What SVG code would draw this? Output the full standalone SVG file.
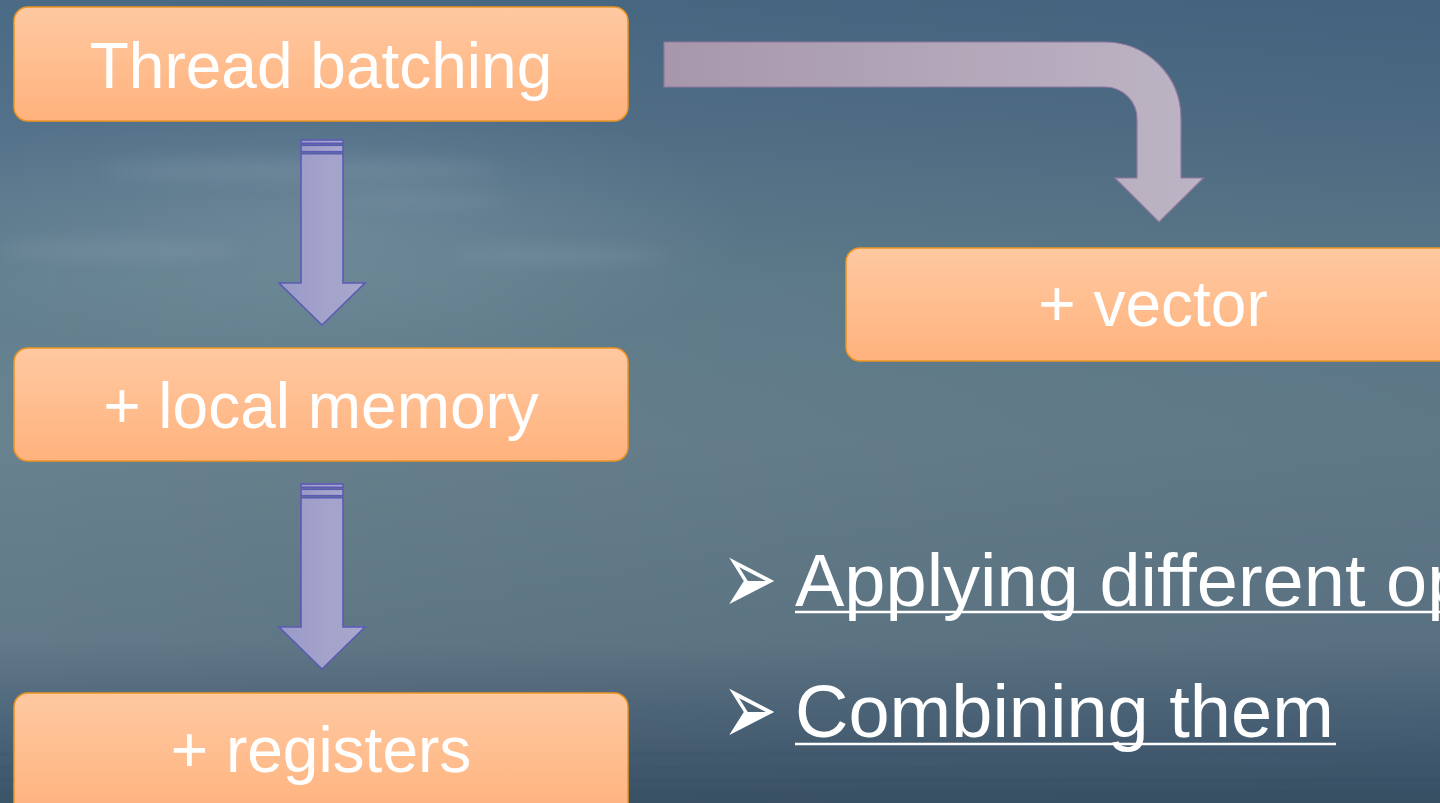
<svg xmlns="http://www.w3.org/2000/svg" width="1440" height="803" viewBox="0 0 1440 803">
  <defs>
    <linearGradient id="sky" x1="0" y1="0" x2="0" y2="1">
      <stop offset="0" stop-color="#4a6a85"/>
      <stop offset="0.15" stop-color="#53718a"/>
      <stop offset="0.35" stop-color="#62808f"/>
      <stop offset="0.55" stop-color="#69828f"/>
      <stop offset="0.80" stop-color="#617988"/>
      <stop offset="0.90" stop-color="#4d657a"/>
      <stop offset="1" stop-color="#3c5468"/>
    </linearGradient>
    <linearGradient id="skyShade" x1="0" y1="0" x2="1" y2="0">
      <stop offset="0" stop-color="#000" stop-opacity="0"/>
      <stop offset="1" stop-color="#0a2038" stop-opacity="0.10"/>
    </linearGradient>
    <radialGradient id="haze" cx="0.5" cy="0.5" r="0.5">
      <stop offset="0" stop-color="#c8d4dc" stop-opacity="0.16"/>
      <stop offset="1" stop-color="#c8d4dc" stop-opacity="0"/>
    </radialGradient>
    <linearGradient id="boxFill" x1="0" y1="0" x2="0" y2="1">
      <stop offset="0" stop-color="#ffc9a1"/>
      <stop offset="1" stop-color="#ffb27d"/>
    </linearGradient>
    <linearGradient id="downFill" x1="0" y1="0" x2="1" y2="0">
      <stop offset="0" stop-color="#9a9ac8"/>
      <stop offset="1" stop-color="#a9a9cd"/>
    </linearGradient>
    <linearGradient id="bendFill" x1="0" y1="0" x2="1" y2="0">
      <stop offset="0" stop-color="#a897ab"/>
      <stop offset="1" stop-color="#bcb4c4"/>
    </linearGradient>
    <filter id="soft" x="-20%" y="-50%" width="140%" height="200%">
      <feGaussianBlur stdDeviation="8"/>
    </filter>
    <filter id="ripple" x="-5%" y="-200%" width="110%" height="500%">
      <feGaussianBlur stdDeviation="1.2"/>
    </filter>
    <style>
      .box { fill: url(#boxFill); stroke: #ee9422; stroke-width: 1.5; }
      .lbl { font-family: "Liberation Sans", Arial, sans-serif; font-size: 64px; fill: #ffffff; text-anchor: middle; }
      .down { fill: url(#downFill); stroke: #5b5bb6; stroke-width: 1.6; stroke-linejoin: miter; }
      .bend { fill: url(#bendFill); stroke: #8f78a0; stroke-width: 1.2; }
      .item { font-family: "Liberation Sans", Arial, sans-serif; font-size: 74px; fill: #ffffff; }
      .mark { font-family: "DejaVu Sans", sans-serif; font-size: 66px; fill: #ffffff; }
      .uline { stroke: #ffffff; stroke-width: 2.5; }
    </style>
  </defs>

  <!-- backdrop: hazy sky over water -->
  <g id="backdrop">
    <rect x="0" y="0" width="1440" height="803" fill="url(#sky)"/>
    <rect x="0" y="0" width="1440" height="803" fill="url(#skyShade)"/>
    <ellipse cx="330" cy="230" rx="420" ry="140" fill="url(#haze)"/>
    <g fill="#c9d5dd" opacity="0.10" filter="url(#soft)">
      <ellipse cx="300" cy="170" rx="200" ry="12"/>
      <ellipse cx="120" cy="250" rx="120" ry="10"/>
      <ellipse cx="560" cy="255" rx="110" ry="9"/>
      <ellipse cx="420" cy="200" rx="90" ry="7"/>
    </g>
    <g stroke="#2f465c" stroke-width="2" opacity="0.18" filter="url(#ripple)">
      <line x1="0" y1="754" x2="1440" y2="754"/>
      <line x1="0" y1="768" x2="1440" y2="768"/>
      <line x1="0" y1="780" x2="1440" y2="780"/>
      <line x1="0" y1="792" x2="1440" y2="792"/>
    </g>
  </g>

  <!-- connectors -->
  <g id="connectors">
    <g id="arrow-batch-local">
      <rect class="down" x="301" y="140" width="42" height="3.3"/>
      <rect class="down" x="301" y="145.3" width="42" height="6.4"/>
      <polygon class="down" points="301,153.7 343,153.7 343,283 365,283 322,325 279,283 301,283"/>
    </g>
    <g id="arrow-local-registers">
      <rect class="down" x="301" y="484" width="42" height="3.3"/>
      <rect class="down" x="301" y="489.3" width="42" height="6.4"/>
      <polygon class="down" points="301,497.7 343,497.7 343,627 365,627 322,669 279,627 301,627"/>
    </g>
    <path id="arrow-batch-vector" class="bend" d="M664,42 H1105 A76,76 0 0 1 1181,118 V178 H1203.5 L1159,222 L1115,178 H1137 V119 A32,32 0 0 0 1105,87 H664 Z"/>
  </g>

  <!-- nodes -->
  <g id="node-thread-batching">
    <rect class="box" x="14" y="7" width="614" height="114" rx="14"/>
    <text class="lbl" x="321" y="88">Thread batching</text>
  </g>
  <g id="node-local-memory">
    <rect class="box" x="14" y="348" width="614" height="113" rx="14"/>
    <text class="lbl" x="321" y="428">+ local memory</text>
  </g>
  <g id="node-registers">
    <rect class="box" x="14" y="693" width="614" height="124" rx="14"/>
    <text class="lbl" x="321" y="772">+ registers</text>
  </g>
  <g id="node-vector">
    <rect class="box" x="846" y="248" width="614" height="113" rx="14"/>
    <text class="lbl" x="1153" y="326">+ vector</text>
  </g>

  <!-- bullet list -->
  <g id="bullets">
    <text class="mark" transform="translate(722,580) scale(1,1.6)" x="0" y="21">➢</text>
    <text class="item" x="795" y="606">Applying different op</text>
    <line class="uline" x1="795" y1="612" x2="1440" y2="612"/>
    <text class="mark" transform="translate(722,711) scale(1,1.6)" x="0" y="21">➢</text>
    <text class="item" x="795" y="737">Combining them</text>
    <line class="uline" x1="795" y1="744" x2="1336" y2="744"/>
  </g>
</svg>
